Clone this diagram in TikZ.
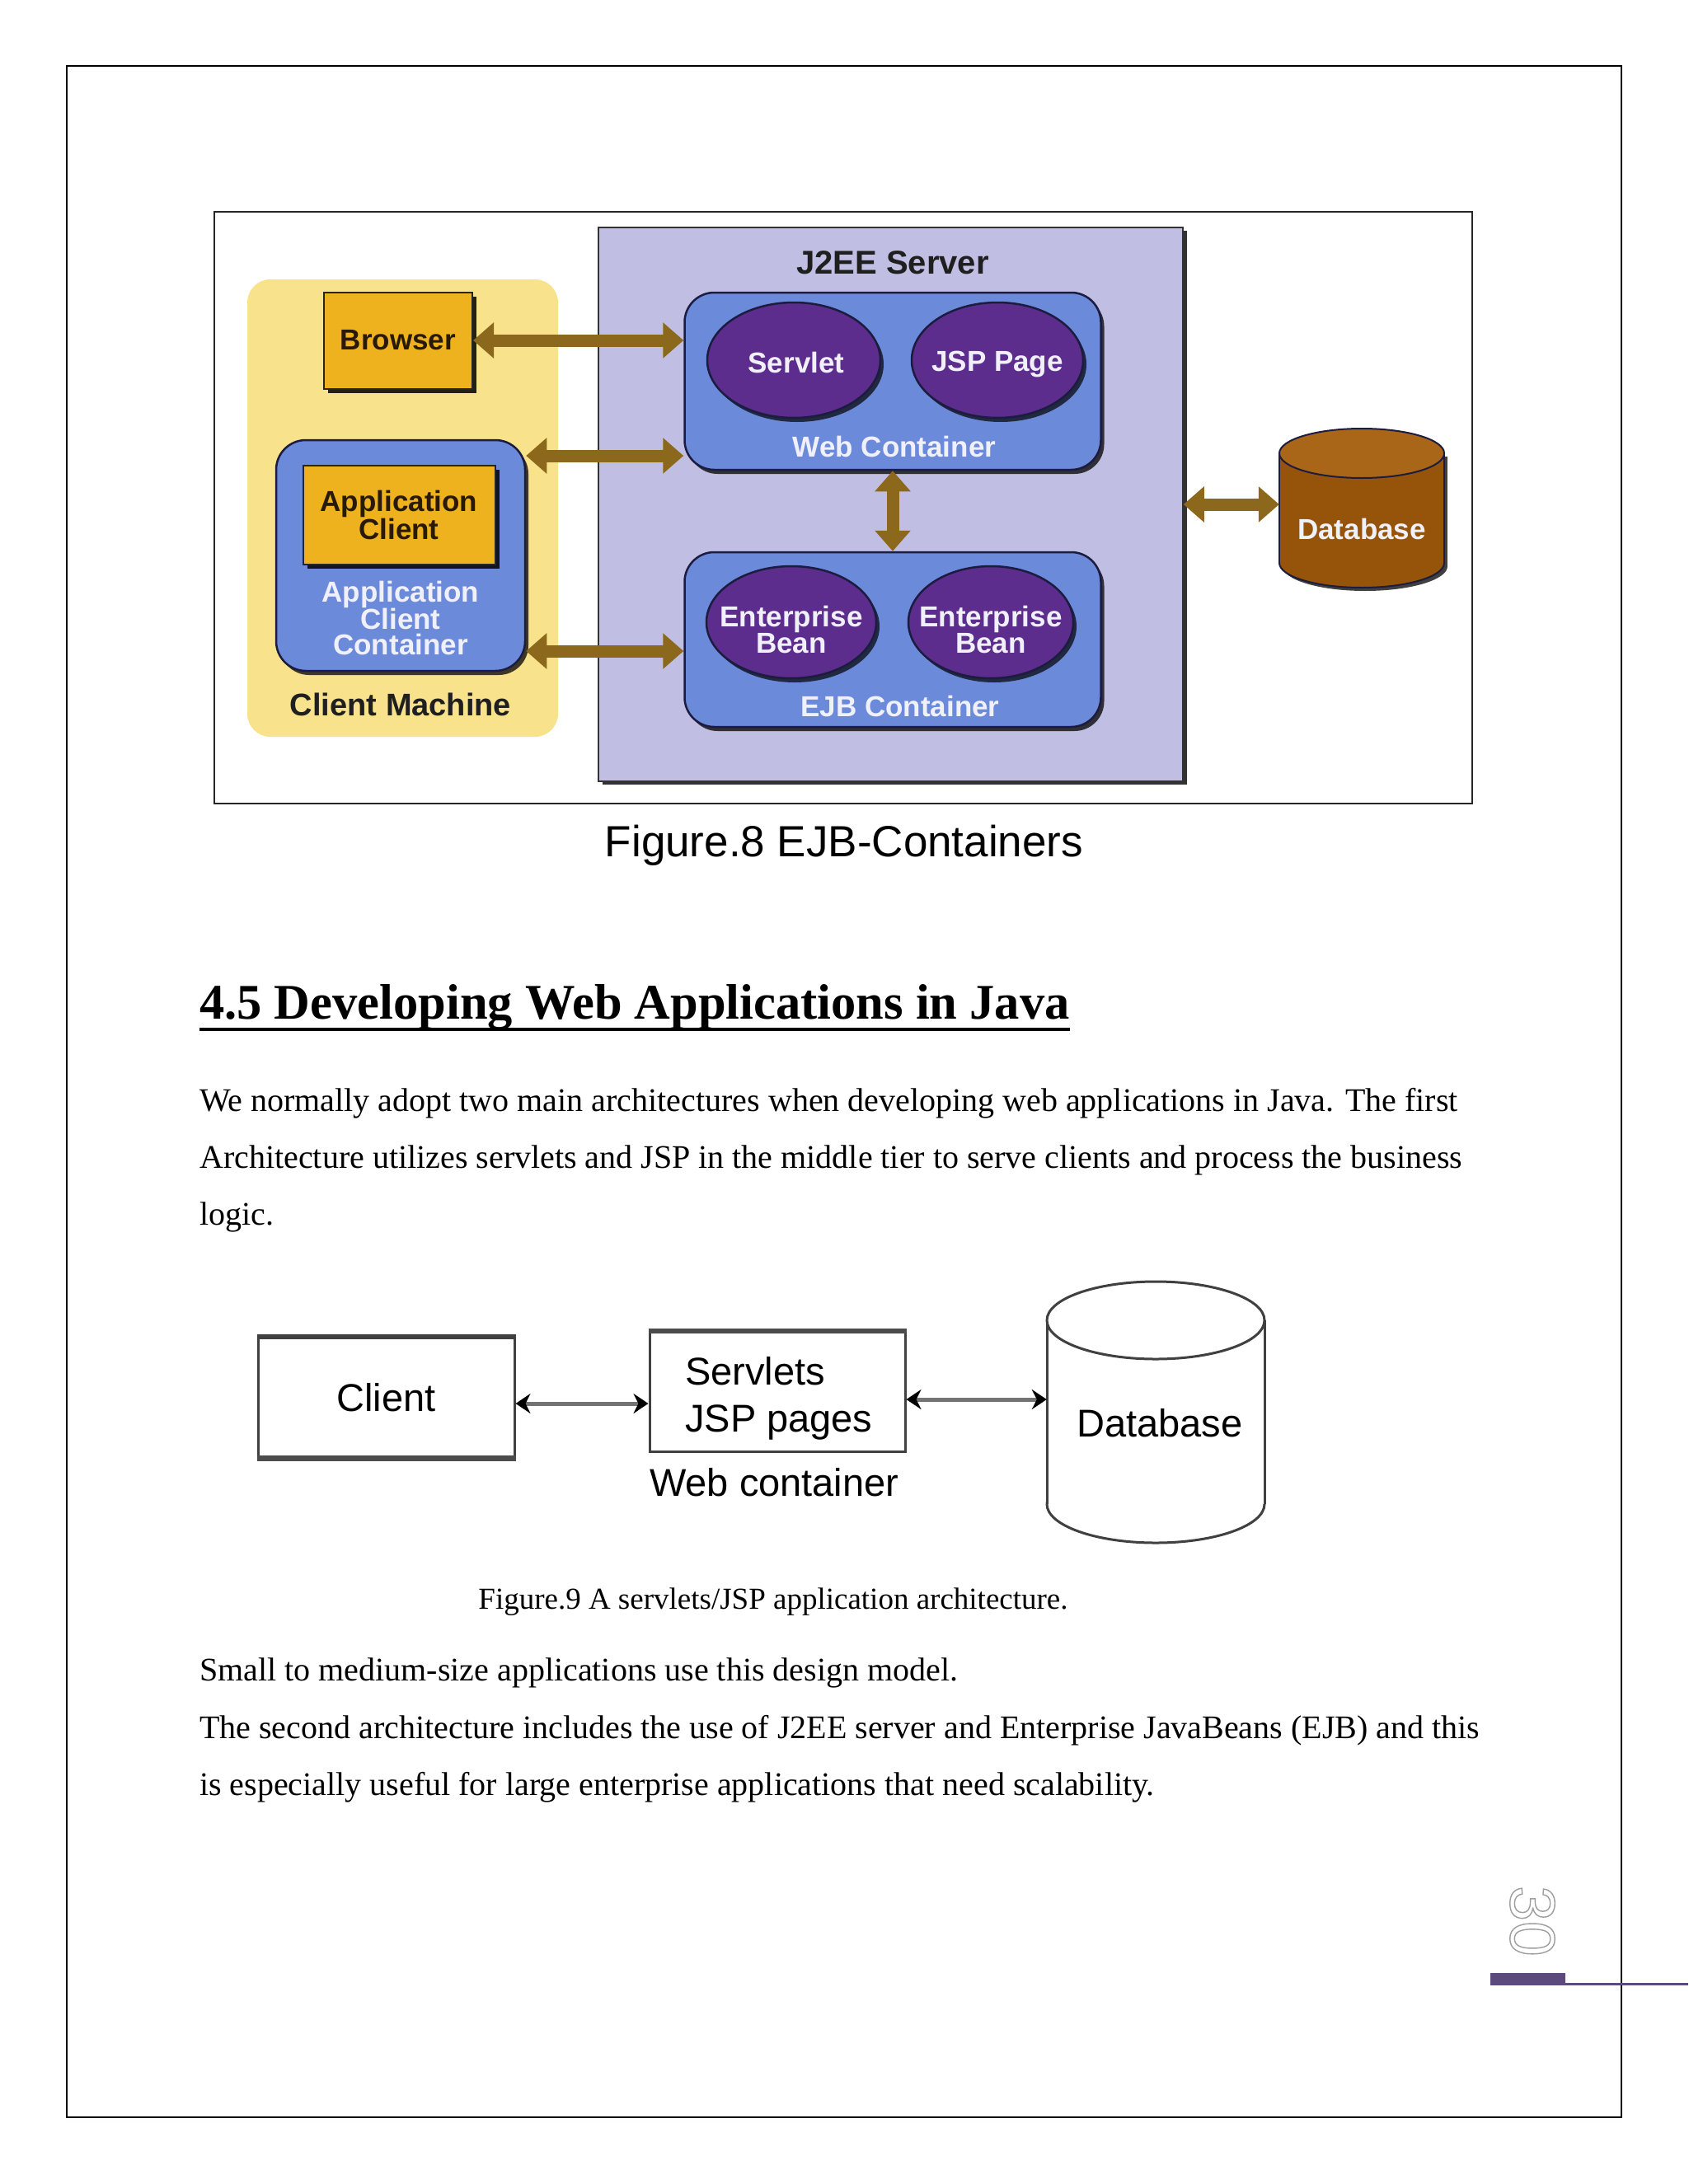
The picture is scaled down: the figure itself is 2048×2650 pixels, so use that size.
\documentclass[tikz,border=0pt]{standalone}
\usepackage{fontspec}
\setmainfont{Liberation Serif}
\newfontfamily\arial{Liberation Sans}
\usetikzlibrary{arrows.meta,shapes.geometric,shadows,calc}
\definecolor{lav}{RGB}{192,190,226}
\definecolor{ylw}{RGB}{248,226,140}
\definecolor{org}{RGB}{238,178,30}
\definecolor{blu}{RGB}{108,138,218}
\definecolor{pur}{RGB}{92,45,140}
\definecolor{arr}{RGB}{140,104,28}
\definecolor{dbc}{RGB}{150,84,10}
\definecolor{dbtop}{RGB}{170,102,24}
\definecolor{navy}{RGB}{28,28,64}
\definecolor{ppur}{RGB}{92,74,126}
\definecolor{dtxt}{RGB}{40,26,6}
\definecolor{wtxt}{RGB}{240,240,250}
\tikzset{
  bigarrow/.style={draw=arr, line width=15pt, {Triangle[width=42pt,length=25pt]}-{Triangle[width=42pt,length=25pt]}},
  ctr/.style={fill=blu, draw=navy, line width=2.5pt, rounded corners=36pt, inner sep=0pt,
    drop shadow={shadow xshift=4pt,shadow yshift=-5pt,fill=black,opacity=0.75}},
  obox/.style={fill=org, draw=black!85, line width=2pt, inner sep=0pt, align=center, text=dtxt,
    font=\arial\bfseries\fontsize{35}{30}\selectfont,
    drop shadow={shadow xshift=5pt,shadow yshift=-5pt,fill=black,opacity=0.85}},
  bean/.style={ellipse, fill=pur, draw=navy, line width=2.5pt, inner sep=0pt,
    drop shadow={shadow xshift=4pt,shadow yshift=-5pt,fill=black,opacity=0.7}},
  wlab/.style={font=\arial\bfseries\fontsize{35}{31}\selectfont, text=wtxt, align=center, inner sep=0pt},
  dlab/.style={font=\arial\bfseries\fontsize{38}{38}\selectfont, text=black!88, inner sep=0pt},
  body/.style={font=\fontsize{40}{48}\selectfont, anchor=base west, inner sep=0pt},
  plainbox/.style={draw=black!75, line width=3pt, fill=white, inner sep=0pt},
  sans9/.style={font=\arial\fontsize{47}{57}\selectfont, inner sep=0pt},
  thinarrow/.style={draw=black!55, line width=5pt,
    {Stealth[length=18pt,width=24pt,inset=6pt,color=black]}-{Stealth[length=18pt,width=24pt,inset=6pt,color=black]}}
}
\begin{document}
\begin{tikzpicture}[x=1pt,y=-1pt]
\useasboundingbox (0,0) rectangle (2048,2650);
\fill[white] (0,0) rectangle (2048,2650);
% page border
\draw[line width=2.5pt] (81,80) rectangle (1967,2569);

% ===== Figure 8 =====
\draw[line width=2.5pt, black!85, fill=white] (260,257) rectangle (1786,975);
\node[fill=ylw, rounded corners=28pt, minimum width=377pt, minimum height=555pt, inner sep=0pt] (cm) at (488.5,616.5) {};
\node[fill=lav, draw=black!80, line width=1.5pt, minimum width=709pt, minimum height=672pt, inner sep=0pt,
  drop shadow={shadow xshift=5pt,shadow yshift=-4pt,fill=black,opacity=0.8}] (j2ee) at (1080.5,612) {};
\node[dlab, font=\arial\bfseries\fontsize{40}{40}\selectfont] (j2eel) at (1083,319) {J2EE Server};

\node[obox, minimum width=180pt, minimum height=117pt] (browser) at (483,413) {Browser};
\node[ctr, minimum width=302pt, minimum height=280pt] (acc) at (486,674) {};
\node[obox, minimum width=233pt, minimum height=120pt] (appc) at (484,625) {Application\\Client};
\node[wlab] (accl) at (486,750) {Application\\Client\\Container};
\node[dlab] (cml) at (486,855) {Client Machine};

\node[ctr, minimum width=505pt, minimum height=215pt] (web) at (1083,462.5) {};
\node[bean, minimum width=210pt, minimum height=140pt] (servlet) at (963,437) {};
\node[wlab] (servletl) at (966,440) {Servlet};
\node[bean, minimum width=208pt, minimum height=140pt] (jsp) at (1210,437) {};
\node[wlab] (jspl) at (1210,442) {JSP Page};
\node[wlab] (webl) at (1085,542) {Web Container};

\node[ctr, minimum width=505pt, minimum height=212pt] (ejb) at (1083,776) {};
\node[bean, minimum width=206pt, minimum height=136pt] (eb1) at (960,755) {};
\node[wlab] (eb1l) at (960,764) {Enterprise\\Bean};
\node[bean, minimum width=200pt, minimum height=136pt] (eb2) at (1202,755) {};
\node[wlab] (eb2l) at (1202,764) {Enterprise\\Bean};
\node[wlab] (ejbl) at (1092,857) {EJB Container};

% database (figure 8)
\fill[black!75] (1656,687) ellipse [x radius=100, y radius=30];
\fill[black!75] (1556,554) rectangle (1756,687);
\fill[dbc] (1652,683) ellipse [x radius=100, y radius=30];
\draw[navy, line width=2pt] (1652,683) ellipse [x radius=100, y radius=30];
\fill[dbc] (1552,550) rectangle (1752,683);
\draw[navy, line width=2pt] (1552,550) -- (1552,683) (1752,550) -- (1752,683);
\fill[dbtop] (1652,550) ellipse [x radius=100, y radius=30];
\draw[navy, line width=2pt] (1652,550) ellipse [x radius=100, y radius=30];
\node[inner sep=0pt, minimum width=200pt, minimum height=193pt] (db) at (1652,616.5) {};
\node[wlab] (dbl) at (1652,642) {Database};

% arrows (figure 8)
\draw[bigarrow] (browser.east) -- (web.west |- browser.east);
\draw[bigarrow] (acc.east |- 0,553) -- (web.west |- 0,553);
\draw[bigarrow] (acc.east |- 0,790) -- (ejb.west |- 0,790);
\draw[bigarrow] (web.south) -- (ejb.north);
\draw[bigarrow] (j2ee.east |- 0,612) -- (db.west |- 0,612);

\node[font=\arial\fontsize{53}{53}\selectfont, anchor=base, inner sep=0pt] (cap8) at (1024,1039) {Figure.8 EJB-Containers};

% ===== Section =====
\node[font=\bfseries\fontsize{60.5}{66}\selectfont, anchor=base west, inner sep=0pt] (head) at (242,1236) {4.5 Developing Web Applications in Java};
\draw[line width=4pt] (head.west |- 0,1249) -- (head.east |- 0,1249);
\node[body] (b1) at (242,1348) {We normally adopt two main architectures when developing web applications in Java. The first};
\node[body] (b2) at (242,1417) {Architecture utilizes servlets and JSP in the middle tier to serve clients and process the business};
\node[body] (b3) at (242,1486) {logic.};

% ===== Figure 9 =====
\node[plainbox, sans9, minimum width=311pt, minimum height=145pt] (client) at (468.5,1695.5) {Client};
\draw[line width=5pt, black!75] (client.north west) -- (client.north east);
\draw[line width=7pt, black!70] (client.south west) -- (client.south east);
\node[plainbox, minimum width=310pt, minimum height=145pt] (serv) at (943,1688.5) {};
\draw[line width=6pt, black!70] (serv.north west) -- (serv.north east);
\node[sans9, anchor=base west] (servl1) at (831,1680) {Servlets};
\node[sans9, anchor=base west] (servl2) at (831,1737) {JSP pages};
\node[sans9, anchor=base west] (wcl) at (788,1815) {Web container};

% database (figure 9)
\fill[white] (1402,1825) ellipse [x radius=132, y radius=47];
\draw[black!75, line width=3pt] (1402,1825) ellipse [x radius=132, y radius=47];
\fill[white] (1270,1602) rectangle (1534,1825);
\draw[black!75, line width=3pt] (1270,1602) -- (1270,1825) (1534,1602) -- (1534,1825);
\draw[black!75, line width=3pt, fill=white] (1402,1602) ellipse [x radius=132, y radius=47];
\node[inner sep=0pt, minimum width=264pt, minimum height=317pt] (db9) at (1402,1713.5) {};
\node[sans9, anchor=base] (db9l) at (1407,1743) {Database};

\draw[thinarrow] (client.east |- 0,1703) -- (serv.west |- 0,1703);
\draw[thinarrow] (serv.east |- 0,1698) -- (db9.west |- 0,1698);

\node[font=\fontsize{37}{42}\selectfont, anchor=base, inner sep=0pt] (cap9) at (938,1952) {Figure.9 A servlets/JSP application architecture.};

\node[body] (b4) at (242,2039) {Small to medium-size applications use this design model.};
\node[body] (b5) at (242,2109) {The second architecture includes the use of J2EE server and Enterprise JavaBeans (EJB) and this};
\node[body] (b6) at (242,2178) {is especially useful for large enterprise applications that need scalability.};

% page number
\node[rotate=-90, font=\arial\fontsize{77}{77}\selectfont, inner sep=0pt] (pg) at (1859,2331)
  {\special{pdf:literal direct 1 Tr 1.4 w 0.62 G}30\special{pdf:literal direct 0 Tr}};
\fill[ppur] (1808,2394) rectangle (1899,2409);
\draw[ppur, line width=3pt] (1899,2407.5) -- (2048,2407.5);
\end{tikzpicture}
\end{document}
